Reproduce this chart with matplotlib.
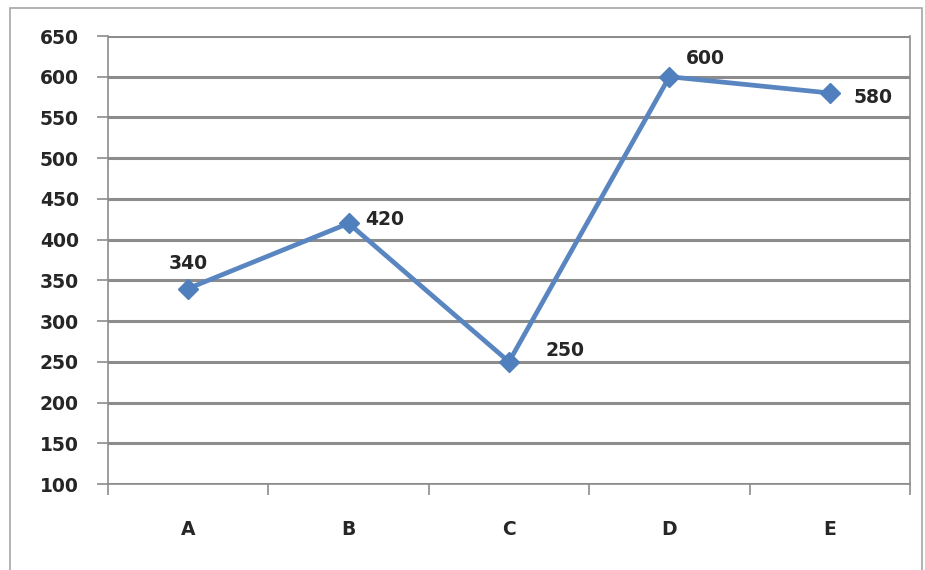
import matplotlib
matplotlib.use("Agg")
import matplotlib.pyplot as plt
from matplotlib.patches import Rectangle
from matplotlib.ticker import FixedLocator, NullFormatter

categories = ["A", "B", "C", "D", "E"]
values = [340, 420, 250, 600, 580]
y_ticks = [100, 150, 200, 250, 300, 350, 400, 450, 500, 550, 600, 650]

fig = plt.figure(figsize=(9.25, 5.7), dpi=100)
fig.patch.set_facecolor("white")
fig.patches.append(Rectangle((10/925, -0.05), (922-10)/925, 1 - 8/570 + 0.05,
                             transform=fig.transFigure, fill=False,
                             edgecolor="#a6a6a6", linewidth=1.2))

ax = fig.add_axes([108/925, 1-484/570, (910-108)/925, (484-36)/570])
x = list(range(len(categories)))
ax.set_xlim(-0.5, len(categories) - 0.5)
ax.set_ylim(100, 650)

ax.set_yticks(y_ticks)
ax.yaxis.grid(True, color="#8c8c8c", linewidth=2.2)
ax.set_axisbelow(True)

ax.plot(x, values, color="#5985c0", linewidth=3.4, marker="D",
        markersize=10, markerfacecolor="#4f7fbd", markeredgecolor="#4f7fbd",
        zorder=3, clip_on=False)

ax.set_xticks(x)
ax.set_xticklabels(categories)
ax.xaxis.set_minor_locator(FixedLocator([i - 0.5 for i in range(len(categories) + 1)]))
ax.xaxis.set_minor_formatter(NullFormatter())
ax.tick_params(axis="x", which="major", length=0, pad=26)
ax.tick_params(axis="x", which="minor", length=8, width=1.2, color="#8c8c8c", direction="out")
ax.tick_params(axis="y", length=8, width=1.2, color="#8c8c8c", direction="out", pad=13)

for lab in ax.get_xticklabels() + ax.get_yticklabels():
    lab.set_fontsize(13.5)
    lab.set_fontweight("bold")
    lab.set_color("#262626")
    lab.set_family("DejaVu Sans")

for side in ["left", "bottom", "right"]:
    ax.spines[side].set_color("#8c8c8c")
    ax.spines[side].set_linewidth(1.2)
ax.spines["top"].set_visible(False)

offsets = [(0, 11, "center", "bottom"), (12, 3, "left", "center"),
           (26, 8, "left", "center"), (12, 6, "left", "bottom"),
           (17, -3, "left", "center")]
for xi, v, (dx, dy, ha, va) in zip(x, values, offsets):
    ax.annotate(str(v), (xi, v), xytext=(dx, dy), textcoords="offset points",
                ha=ha, va=va, fontsize=13.5, fontweight="bold", color="#262626",
                family="DejaVu Sans")

fig.savefig("out.png", dpi=100)
